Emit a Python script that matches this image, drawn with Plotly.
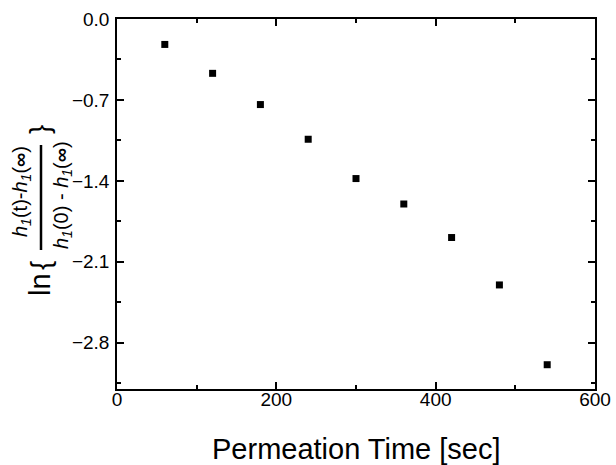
import plotly.graph_objects as go

# Data
time_sec = [60, 120, 180, 240, 300, 360, 420, 480, 540]
ln_ratio = [-0.22, -0.47, -0.74, -1.04, -1.38, -1.60, -1.89, -2.30, -2.99]

x_ticks = [0, 200, 400, 600]
y_ticks = [0.0, -0.7, -1.4, -2.1, -2.8]

W, H = 616, 465
L, R, T, B = 117, 21, 19, 76
PW, PH = W - L - R, H - T - B


def px(xp):
    return (xp - L) / PW


def py(yp):
    return (H - B - yp) / PH


FONT = "Liberation Sans"

fig = go.Figure()
fig.add_trace(go.Scatter(
    x=time_sec, y=ln_ratio, mode="markers",
    marker=dict(symbol="square", size=7, color="black", line=dict(width=0)),
    showlegend=False,
))

axis_common = dict(
    showline=True, linecolor="black", linewidth=1.5, mirror="allticks",
    ticks="inside", ticklen=7, tickwidth=1.5, tickcolor="black",
    showgrid=False, zeroline=False,
    tickfont=dict(family=FONT, size=19, color="black"),
)

fig.update_xaxes(
    range=[0, 600], tickvals=x_ticks, ticktext=[str(v) for v in x_ticks],
    ticklabelstandoff=-8,
    minor=dict(dtick=100, tick0=0, ticks="inside", ticklen=4, tickwidth=1.5, tickcolor="black", showgrid=False),
    **axis_common,
)
fig.update_yaxes(
    range=[-3.2, 0], tickvals=y_ticks,
    ticktext=[f"{v:.1f}".replace("-", "\u2212") for v in y_ticks],
    ticklabelstandoff=2,
    minor=dict(dtick=0.35, tick0=0, ticks="inside", ticklen=4, tickwidth=1.5, tickcolor="black", showgrid=False),
    **axis_common,
)

ann = []
# x-axis title
ann.append(dict(text="Permeation Time [sec]", x=px((L + W - R) / 2), y=py(449),
                xref="paper", yref="paper", showarrow=False,
                xanchor="center", yanchor="middle",
                font=dict(family=FONT, size=29, color="black")))
# y-axis label pieces (rotated)
rot = dict(xref="paper", yref="paper", showarrow=False, textangle=-90,
           xanchor="center", yanchor="middle")
ann.append(dict(text="ln", x=px(40), y=py(285), font=dict(family=FONT, size=29, color="black"), **rot))
ann.append(dict(text="{", x=px(40), y=py(266), font=dict(family=FONT, size=28, color="black"), **rot))
ann.append(dict(text="}", x=px(39), y=py(130), font=dict(family=FONT, size=28, color="black"), **rot))
ann.append(dict(text="<i>h</i><sub><i>1</i></sub>(t)-<i>h</i><sub><i>1</i></sub>(<b>∞</b>)",
                x=px(21), y=py(192), font=dict(family=FONT, size=20, color="black"), **rot))
ann.append(dict(text="<i>h</i><sub><i>1</i></sub>(0) - <i>h</i><sub><i>1</i></sub>(<b>∞</b>)",
                x=px(62), y=py(195), font=dict(family=FONT, size=20, color="black"), **rot))

fig.update_layout(
    width=W, height=H,
    margin=dict(l=L, r=R, t=T, b=B, autoexpand=False),
    paper_bgcolor="white", plot_bgcolor="white",
    annotations=ann,
    shapes=[dict(type="line", xref="paper", yref="paper",
                 x0=px(41), x1=px(41), y0=py(145), y1=py(250),
                 line=dict(color="black", width=2.5))],
)

fig.write_html("out.html", config={"displayModeBar": False},
               post_script="document.body.style.margin='0';")
